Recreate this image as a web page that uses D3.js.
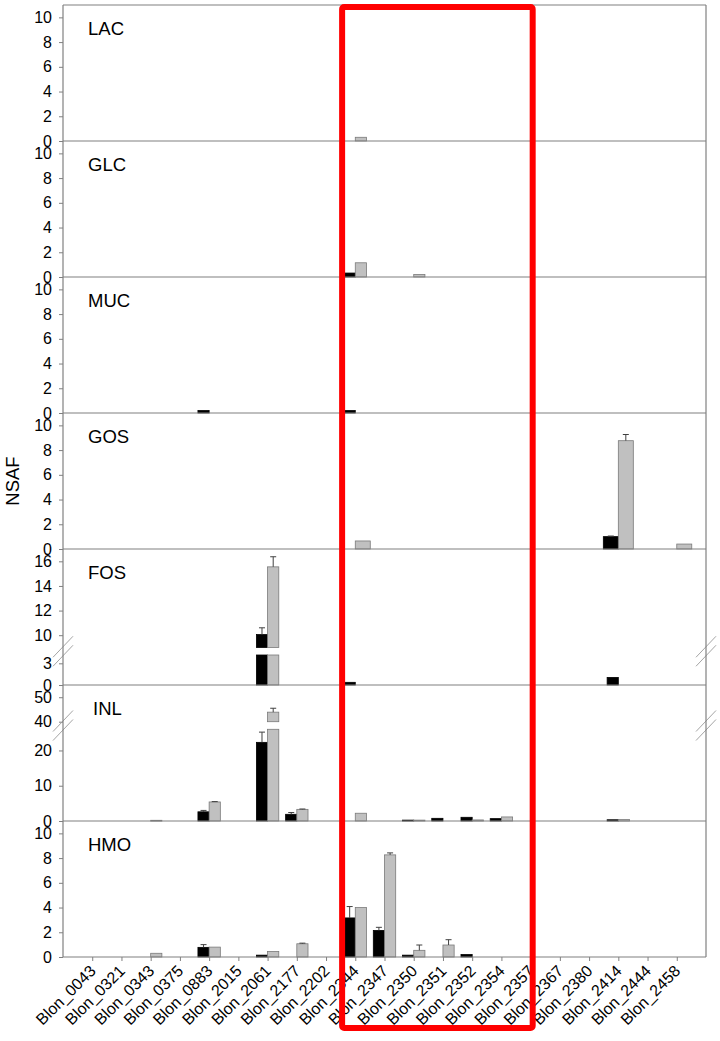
<!DOCTYPE html>
<html><head><meta charset="utf-8">
<script src="https://cdn.jsdelivr.net/npm/d3@7"></script>
<style>body{margin:0;background:#fff} svg{display:block}</style>
</head><body>
<svg id="c" width="720" height="1041"></svg>
<script>
// ---------- DATA ----------
const categories = ["Blon_0043","Blon_0321","Blon_0343","Blon_0375","Blon_0883","Blon_2015","Blon_2061","Blon_2177","Blon_2202","Blon_2344","Blon_2347","Blon_2350","Blon_2351","Blon_2352","Blon_2354","Blon_2357","Blon_2367","Blon_2380","Blon_2414","Blon_2444","Blon_2458"];
const panelNames = ["LAC","GLC","MUC","GOS","FOS","INL","HMO"];
//                 0043 0321 0343 0375 0883 2015 2061  2177 2202 2344 2347 2350 2351 2352 2354 2357 2367 2380 2414 2444 2458
const lacBlack   = [0,   0,   0,   0,   0,   0,   0,    0,   0,   0,   0,   0,   0,   0,   0,   0,   0,   0,   0,   0,   0];
const lacGray    = [0,   0,   0,   0,   0,   0,   0,    0,   0,   0.3, 0,   0,   0,   0,   0,   0,   0,   0,   0,   0,   0];
const glcBlack   = [0,   0,   0,   0,   0,   0,   0,    0,   0,   0.32,0,   0,   0,   0,   0,   0,   0,   0,   0,   0,   0];
const glcGray    = [0,   0,   0,   0,   0,   0,   0,    0,   0,   1.15,0,   0.2, 0,   0,   0,   0,   0,   0,   0,   0,   0];
const mucBlack   = [0,   0,   0,   0,   0.2, 0,   0,    0,   0,   0.2, 0,   0,   0,   0,   0,   0,   0,   0,   0,   0,   0];
const mucGray    = [0,   0,   0,   0,   0,   0,   0,    0,   0,   0,   0,   0,   0,   0,   0,   0,   0,   0,   0,   0,   0];
const gosBlack   = [0,   0,   0,   0,   0,   0,   0,    0,   0,   0,   0,   0,   0,   0,   0,   0,   0,   0,   1.0, 0,   0];
const gosGray    = [0,   0,   0,   0,   0,   0,   0,    0,   0,   0.65,0,   0,   0,   0,   0,   0,   0,   0,   8.76,0,   0.4];
const fosBlack   = [0,   0,   0,   0,   0,   0,   10.05,0,   0,   0.37,0,   0,   0,   0,   0,   0,   0,   0,   1.05,0,   0];
const fosGray    = [0,   0,   0,   0,   0,   0,   15.55,0,   0,   0,   0,   0,   0,   0,   0,   0,   0,   0,   0,   0,   0];
const inlBlack   = [0,   0,   0,   0,   2.6, 0,   22.3, 1.9, 0,   0,   0,   0.25,0.76,1.05,0.67,0,   0,   0,   0.35,0,   0];
const inlGray    = [0,   0,   0.2, 0,   5.4, 0,   43.9, 3.3, 0,   2.2, 0,   0.25,0,   0.3, 1.15,0,   0,   0,   0.4, 0,   0];
const hmoBlack   = [0,   0,   0,   0,   0.78,0,   0.15, 0,   0,   3.16,2.15,0.15,0,   0.2, 0,   0,   0,   0,   0,   0,   0];
const hmoGray    = [0,   0,   0.3, 0,   0.8, 0,   0.45, 1.07,0,   4.0, 8.26,0.54,0.97,0,   0,   0,   0,   0,   0,   0,   0];
// error bars (upper, same units)
const gosBlackErr = [0,0,0,0,0,0,0,0,0,0,0,0,0,0,0,0,0,0,0.05,0,0];
const gosGrayErr  = [0,0,0,0,0,0,0,0,0,0,0,0,0,0,0,0,0,0,0.5,0,0];
const fosBlackErr = [0,0,0,0,0,0,0.55,0,0,0,0,0,0,0,0,0,0,0,0,0,0];
const fosGrayErr  = [0,0,0,0,0,0,0.82,0,0,0,0,0,0,0,0,0,0,0,0,0,0];
const inlBlackErr = [0,0,0,0,0.4,0,2.9,0.5,0,0,0,0,0,0,0,0,0,0,0,0,0];
const inlGrayErr  = [0,0,0,0,0.1,0,1.6,0.1,0,0,0,0,0,0,0,0,0,0,0,0,0];
const hmoBlackErr = [0,0,0,0,0.22,0,0,0,0,0.92,0.25,0,0,0,0,0,0,0,0,0,0];
const hmoGrayErr  = [0,0,0,0,0,0,0,0.05,0,0,0.16,0.43,0.43,0,0,0,0,0,0,0,0];
const zeros = categories.map(() => 0);
// y-axis tick labels
const stdTicks = [0,2,4,6,8,10];
const fosLowTicks = [0,3], fosHighTicks = [10,12,14,16];
const inlLowTicks = [0,10,20], inlHighTicks = [40,50];

const panels = [
  {name:"LAC", black:lacBlack, gray:lacGray, be:zeros, ge:zeros},
  {name:"GLC", black:glcBlack, gray:glcGray, be:zeros, ge:zeros},
  {name:"MUC", black:mucBlack, gray:mucGray, be:zeros, ge:zeros},
  {name:"GOS", black:gosBlack, gray:gosGray, be:gosBlackErr, ge:gosGrayErr},
  {name:"FOS", black:fosBlack, gray:fosGray, be:fosBlackErr, ge:fosGrayErr},
  {name:"INL", black:inlBlack, gray:inlGray, be:inlBlackErr, ge:inlGrayErr},
  {name:"HMO", black:hmoBlack, gray:hmoGray, be:hmoBlackErr, ge:hmoGrayErr}
];

// ---------- LAYOUT ----------
const left = 63, right = 706, top0 = 5, panelH = 136;
const axisCol = "#808080";
const FONT = "'Liberation Sans', Arial, sans-serif";
const svg = d3.select("#c");
const x = d3.scalePoint().domain(categories).range([left, right]).padding(1);
const step = x.step();

const gBars = svg.append("g"), gAxes = svg.append("g");

panels.forEach((p, k) => {
  const top = top0 + k * panelH, bottom = top + panelH;
  let segs;
  if (p.name === "FOS") {
    segs = [
      {scale: d3.scaleLinear().domain([0, 4.15]).range([bottom, bottom - 30]), ticks: fosLowTicks},
      {scale: d3.scaleLinear().domain([9, 17]).range([bottom - 37.5, top]), ticks: fosHighTicks}
    ];
  } else if (p.name === "INL") {
    segs = [
      {scale: d3.scaleLinear().domain([0, 26]).range([bottom, bottom - 91.7]), ticks: inlLowTicks},
      {scale: d3.scaleLinear().domain([40, 55]).range([bottom - 99.3, top]), ticks: inlHighTicks}
    ];
  } else {
    segs = [{scale: d3.scaleLinear().domain([0, 11]).range([bottom, top]), ticks: stdTicks}];
  }
  const bw = step * (p.name === "GOS" ? 0.513 : 0.383);
  const segFor = v => segs.find(s => v >= s.scale.domain()[0] && v <= s.scale.domain()[1]) || segs[segs.length - 1];

  [["black", "be", "#000", "#000"], ["gray", "ge", "#c0c0c0", "#7a7a7a"]].forEach(([key, ekey, fill, stroke], si) => {
    categories.forEach((c, i) => {
      const v = p[key][i];
      if (v <= 0) return;
      const bx = x(c) - bw + si * bw;
      segs.forEach(s => {
        const [d0, d1] = s.scale.domain();
        if (v <= d0) return;
        const vt = Math.min(v, d1);
        const y1 = s.scale(vt), y0 = s.scale(d0);
        gBars.append("rect")
          .attr("x", bx).attr("y", y1).attr("width", bw).attr("height", Math.max(0.8, y0 - y1))
          .attr("fill", fill).attr("stroke", stroke).attr("stroke-width", 0.8);
      });
      const e = p[ekey][i];
      if (e > 0) {
        const s = segFor(v + e);
        const yTop = s.scale(v + e), yV = segFor(v).scale(v);
        const cx = bx + bw / 2;
        gBars.append("line").attr("x1", cx).attr("x2", cx).attr("y1", yV).attr("y2", yTop)
          .attr("stroke", "#404040").attr("stroke-width", 1);
        gBars.append("line").attr("x1", cx - 3).attr("x2", cx + 3).attr("y1", yTop).attr("y2", yTop)
          .attr("stroke", "#404040").attr("stroke-width", 1);
      }
    });
  });

  // y axes (per segment)
  segs.forEach(s => {
    const ax = gAxes.append("g").attr("transform", `translate(${left},0)`)
      .call(d3.axisLeft(s.scale).tickValues(s.ticks).tickFormat(d3.format("d")).tickSize(4).tickPadding(7).tickSizeOuter(0));
    ax.select(".domain").remove();
    ax.selectAll(".tick line").attr("stroke", axisCol);
    ax.selectAll(".tick text").attr("fill", "#000").style("font-family", FONT).style("font-size", "16px");
  });
  // baseline
  gAxes.append("line").attr("x1", left).attr("x2", right).attr("y1", bottom).attr("y2", bottom)
    .attr("stroke", axisCol).attr("stroke-width", 1.2);
  // panel label
  gAxes.append("text").attr("x", left + (p.name === "INL" ? 30 : 25)).attr("y", top + 30).text(p.name)
    .style("font-family", FONT).style("font-size", "18.5px").attr("fill", "#000");
  // break marks
  if (segs.length > 1) {
    const gy = (segs[0].scale.range()[1] + segs[1].scale.range()[0]) / 2;
    [left, right].forEach(ax0 => {
      [-4.5, 4.5].forEach(off => {
        gAxes.append("line").attr("x1", ax0 - 10).attr("y1", gy + off + 10.5)
          .attr("x2", ax0 + 10).attr("y2", gy + off - 10.5)
          .attr("stroke", "#9a9a9a").attr("stroke-width", 0.9);
      });
    });
  }
});

// frame
const bottomAll = top0 + panels.length * panelH;
gAxes.append("line").attr("x1", left).attr("x2", left).attr("y1", top0).attr("y2", bottomAll).attr("stroke", axisCol).attr("stroke-width", 1.2);
gAxes.append("line").attr("x1", right).attr("x2", right).attr("y1", top0).attr("y2", bottomAll).attr("stroke", axisCol).attr("stroke-width", 1.2);
gAxes.append("line").attr("x1", left).attr("x2", right).attr("y1", top0).attr("y2", top0).attr("stroke", axisCol).attr("stroke-width", 1.2);

// x axis
const xa = gAxes.append("g").attr("transform", `translate(0,${bottomAll})`)
  .call(d3.axisBottom(x).tickSize(4).tickSizeOuter(0));
xa.select(".domain").remove();
xa.selectAll(".tick line").attr("stroke", axisCol);
xa.selectAll(".tick text")
  .attr("fill", "#000")
  .style("font-family", FONT).style("font-size", "16px")
  .attr("text-anchor", "end").attr("dy", null).attr("y", null)
  .attr("transform", "translate(4,15) rotate(-45)");

// y label
svg.append("text").attr("transform", "translate(18.5,481) rotate(-90)").attr("text-anchor", "middle")
  .style("font-family", FONT).style("font-size", "18.5px").text("NSAF");

// highlight box
const bx0 = x("Blon_2344") - step * 0.45, bx1 = x("Blon_2357") + step * 0.07;
svg.append("rect").attr("x", bx0).attr("y", 7).attr("width", bx1 - bx0).attr("height", 1028 - 7)
  .attr("rx", 2).attr("fill", "none").attr("stroke", "#ff0000").attr("stroke-width", 6);
</script>
</body></html>
